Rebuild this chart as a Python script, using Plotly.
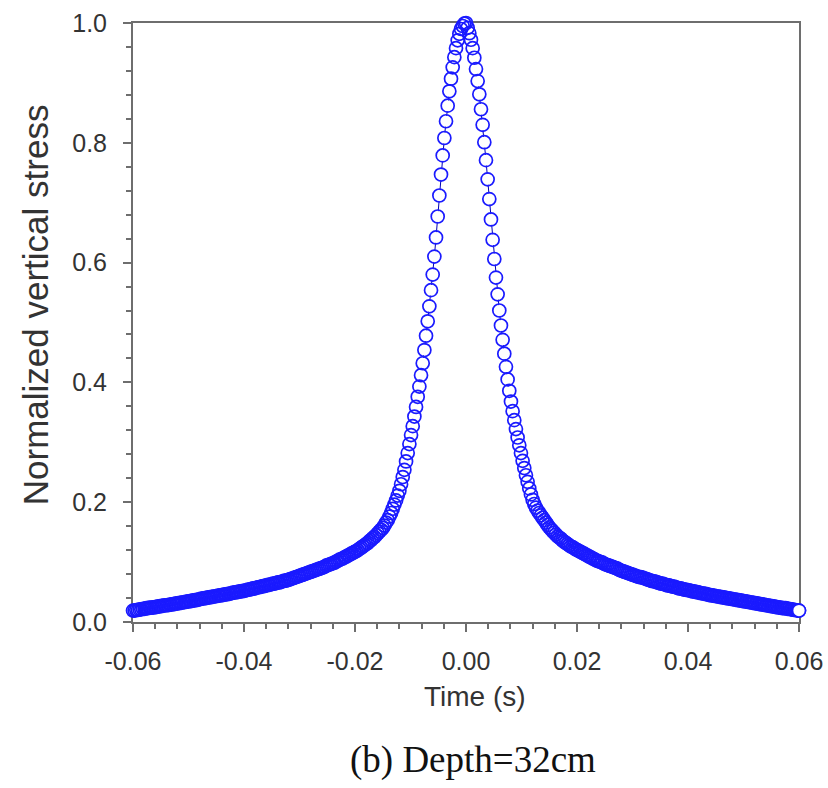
import numpy as np
import plotly.graph_objects as go

# ---- data ----
time_start = -0.06
time_end = 0.06

# rising branch: t = -0.060 ... 0.000 (step 0.0003), last value is the peak
stress_rising = [
    0.019, 0.019, 0.020, 0.020, 0.021, 0.021, 0.022, 0.022, 0.023, 0.023,
    0.024, 0.024, 0.024, 0.025, 0.025, 0.026, 0.026, 0.027, 0.027, 0.028,
    0.028, 0.028, 0.029, 0.029, 0.030, 0.030, 0.031, 0.031, 0.032, 0.032,
    0.033, 0.033, 0.034, 0.034, 0.035, 0.035, 0.036, 0.036, 0.037, 0.037,
    0.038, 0.039, 0.039, 0.040, 0.040, 0.041, 0.041, 0.042, 0.042, 0.043,
    0.043, 0.044, 0.044, 0.045, 0.045, 0.046, 0.046, 0.047, 0.047, 0.048,
    0.049, 0.049, 0.050, 0.050, 0.051, 0.051, 0.052, 0.052, 0.053, 0.054,
    0.054, 0.055, 0.056, 0.056, 0.057, 0.058, 0.058, 0.059, 0.060, 0.060,
    0.061, 0.062, 0.062, 0.063, 0.064, 0.064, 0.065, 0.066, 0.066, 0.067,
    0.068, 0.069, 0.069, 0.070, 0.071, 0.072, 0.073, 0.074, 0.075, 0.076,
    0.077, 0.078, 0.079, 0.080, 0.081, 0.082, 0.083, 0.084, 0.085, 0.086,
    0.087, 0.088, 0.089, 0.090, 0.091, 0.092, 0.094, 0.095, 0.096, 0.097,
    0.098, 0.099, 0.101, 0.102, 0.104, 0.105, 0.106, 0.108, 0.109, 0.111,
    0.112, 0.114, 0.115, 0.117,
    0.118, 0.120, 0.122, 0.124, 0.126, 0.128, 0.130, 0.132, 0.135, 0.137,
    0.140, 0.142, 0.145, 0.148, 0.151, 0.154, 0.157, 0.161, 0.166, 0.170,
    0.176, 0.182, 0.189, 0.196, 0.203, 0.211, 0.219, 0.230, 0.242, 0.254,
    0.268, 0.282, 0.297, 0.312, 0.327, 0.343, 0.359, 0.376, 0.393, 0.412,
    0.432, 0.454, 0.478, 0.502, 0.527, 0.554, 0.580, 0.610, 0.642, 0.677,
    0.712, 0.747, 0.779, 0.808, 0.836, 0.862, 0.886, 0.907, 0.926, 0.943,
    0.958, 0.971, 0.982, 0.990, 0.995, 0.999, 1.000,
]

# falling branch: t = 0.0003 ... 0.060 (step 0.0003)
stress_falling = [
    0.992, 0.983, 0.972, 0.958, 0.942, 0.923, 0.903, 0.881, 0.856, 0.830,
    0.801, 0.771, 0.739, 0.706, 0.672, 0.638, 0.606, 0.575, 0.547, 0.520,
    0.495, 0.471, 0.448, 0.426, 0.405, 0.386, 0.368, 0.352, 0.337, 0.322,
    0.308, 0.295, 0.282, 0.269, 0.257, 0.245, 0.234, 0.223, 0.213, 0.204,
    0.197, 0.191, 0.186, 0.182, 0.178, 0.174, 0.170, 0.166, 0.162, 0.158,
    0.155, 0.152, 0.149, 0.146, 0.143, 0.141, 0.139, 0.136, 0.134, 0.132,
    0.130, 0.128, 0.126, 0.125, 0.123, 0.121, 0.120,
    0.118, 0.117,
    0.115, 0.114, 0.112, 0.111, 0.109, 0.108, 0.106, 0.105, 0.103, 0.102,
    0.101, 0.100, 0.099, 0.097, 0.096, 0.095, 0.094, 0.093, 0.092, 0.091,
    0.090, 0.089, 0.087, 0.086, 0.085, 0.084, 0.083, 0.082, 0.081, 0.080,
    0.079, 0.078, 0.077, 0.076, 0.075, 0.075, 0.074, 0.073, 0.072, 0.071,
    0.070, 0.069, 0.068, 0.068, 0.067, 0.066, 0.065, 0.064, 0.064, 0.063,
    0.062, 0.061, 0.061, 0.060, 0.059, 0.059, 0.058, 0.057, 0.056, 0.056,
    0.055, 0.054, 0.054, 0.053, 0.053, 0.052, 0.051, 0.051, 0.050, 0.050,
    0.049, 0.048, 0.048, 0.047, 0.047, 0.046, 0.045, 0.045, 0.044, 0.044,
    0.043, 0.043, 0.042, 0.042, 0.041, 0.041, 0.040, 0.040, 0.039, 0.039,
    0.038, 0.038, 0.037, 0.037, 0.036, 0.036, 0.035, 0.035, 0.034, 0.034,
    0.033, 0.033, 0.032, 0.032, 0.031, 0.031, 0.030, 0.030, 0.029, 0.029,
    0.028, 0.028, 0.027, 0.027, 0.026, 0.026, 0.025, 0.025, 0.024, 0.024,
    0.023, 0.023, 0.023, 0.022, 0.022, 0.021, 0.021, 0.020, 0.020, 0.019,
    0.019,
]

x_tick_vals = [-0.06, -0.04, -0.02, 0.00, 0.02, 0.04, 0.06]
x_tick_text = ["-0.06", "-0.04", "-0.02", "0.00", "0.02", "0.04", "0.06"]
y_tick_vals = [0.0, 0.2, 0.4, 0.6, 0.8, 1.0]
y_tick_text = ["0.0", "0.2", "0.4", "0.6", "0.8", "1.0"]

x_title = "Time (s)"
y_title = "Normalized vertical stress"
caption = "(b) Depth=32cm"

# sample times (uniform grid of the recording)
t_rise = np.linspace(time_start, 0.0, len(stress_rising))
step = -t_rise[-2]
t_fall = np.linspace(step, time_end, len(stress_falling))
time = np.concatenate([t_rise, t_fall])
stress = list(stress_rising) + list(stress_falling)

# ---- figure ----
AXIS = "#6e6e6e"
TXT = "#333333"
SANS = "Liberation Sans, Arial, sans-serif"
SERIF = "Liberation Serif, Times New Roman, serif"
BLUE = "#1a1aff"

fig = go.Figure()
# thin connecting line (underneath)
fig.add_trace(go.Scatter(
    x=time, y=stress, mode="lines",
    line=dict(color="#0000b4", width=1),
    cliponaxis=False, showlegend=False, hoverinfo="skip",
))
# white interiors of the circles
fig.add_trace(go.Scatter(
    x=time, y=stress, mode="markers",
    marker=dict(symbol="circle", size=11, color="white",
                line=dict(width=0)),
    cliponaxis=False, showlegend=False, hoverinfo="skip",
))
# open circle outlines on top
fig.add_trace(go.Scatter(
    x=time, y=stress, mode="markers",
    marker=dict(symbol="circle-open", size=13, color=BLUE,
                line=dict(color=BLUE, width=1.7)),
    cliponaxis=False, showlegend=False,
))
# last sample drawn on top as a clean white-filled circle
fig.add_trace(go.Scatter(
    x=[time[-1]], y=[stress[-1]], mode="markers",
    marker=dict(symbol="circle", size=13, color="white",
                line=dict(color=BLUE, width=1.7)),
    cliponaxis=False, showlegend=False, hoverinfo="skip",
))

fig.update_layout(
    width=828, height=788,
    margin=dict(l=133, r=29, t=23, b=166),
    paper_bgcolor="white", plot_bgcolor="white",
    font=dict(family=SANS, color=TXT),
    xaxis=dict(
        range=[time_start, time_end], showgrid=False, zeroline=False,
        automargin=False, layer="below traces",
        showline=True, linecolor=AXIS, linewidth=2, mirror=True,
        tickmode="array", tickvals=x_tick_vals, ticktext=x_tick_text,
        ticks="outside", ticklen=8, tickwidth=2, tickcolor=AXIS,
        tickfont=dict(size=25, color=TXT, family=SANS),
        ticklabelstandoff=8,
        minor=dict(dtick=0.004, tick0=0, ticks="outside", ticklen=5,
                   tickwidth=1.5, tickcolor=AXIS, showgrid=False),
    ),
    yaxis=dict(
        range=[0, 1.0], showgrid=False, zeroline=False,
        automargin=False, layer="below traces",
        showline=True, linecolor=AXIS, linewidth=2, mirror=True,
        tickmode="array", tickvals=y_tick_vals, ticktext=y_tick_text,
        ticks="outside", ticklen=8, tickwidth=2, tickcolor=AXIS,
        tickfont=dict(size=25, color=TXT, family=SANS),
        ticklabelstandoff=11,
        minor=dict(dtick=0.04, tick0=0, ticks="outside", ticklen=5,
                   tickwidth=1.5, tickcolor=AXIS, showgrid=False),
    ),
    yaxis2=dict(
        overlaying="y", side="right", range=[0, 1.0], showgrid=False,
        automargin=False,
        zeroline=False, showline=False, showticklabels=False,
        tickmode="array", tickvals=y_tick_vals,
        ticks="inside", ticklen=8, tickwidth=2, tickcolor=AXIS,
    ),
)

fig.add_annotation(text=x_title, xref="paper", yref="paper",
                   x=0.5135, y=-0.125, showarrow=False,
                   font=dict(size=28, color=TXT, family=SANS),
                   xanchor="center", yanchor="middle")
fig.add_annotation(text=y_title, xref="paper", yref="paper",
                   x=-0.147, y=0.529, showarrow=False, textangle=-90,
                   font=dict(size=35, color=TXT, family=SANS),
                   xanchor="center", yanchor="middle")
fig.add_annotation(text=caption, xref="paper", yref="paper",
                   x=0.51, y=-0.230, showarrow=False,
                   font=dict(size=37, color="#111111", family=SERIF),
                   xanchor="center", yanchor="middle")

fig.write_html(
    "out.html",
    config={"displayModeBar": False},
    post_script="document.body.style.margin='0px';"
                "document.body.style.overflow='hidden';",
)
